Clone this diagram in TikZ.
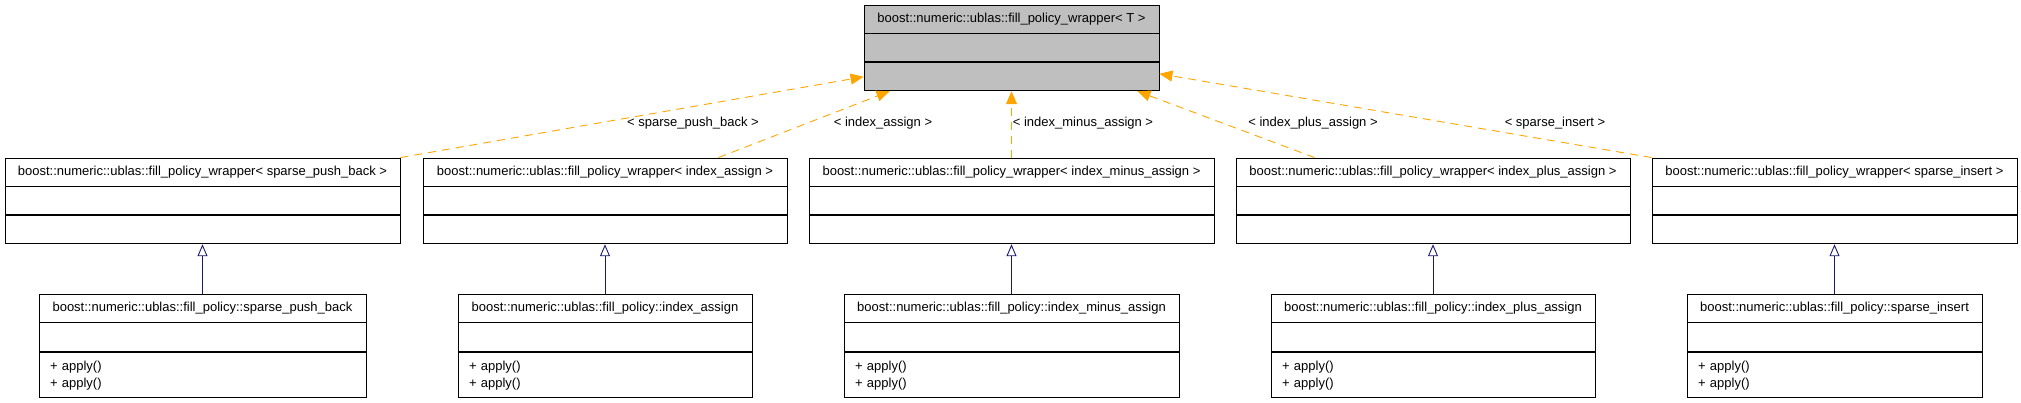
\documentclass[tikz,border=0pt]{standalone}
\usepackage{fontspec}
\setmainfont{Liberation Sans}
\usepackage{tikz}
\usetikzlibrary{arrows.meta, positioning}
\definecolor{inheritline}{HTML}{191970}
\definecolor{templline}{HTML}{FFA500}
\definecolor{basefill}{HTML}{BFBFBF}

\tikzset{
    classtitle/.style={draw, line width=0.9pt, inner sep=0pt, minimum height=28pt, minimum width=#1, font=\fontsize{13pt}{17pt}\selectfont},
    classpart/.style={draw, line width=0.9pt, inner sep=0pt, minimum height=28pt, minimum width=#1},
    opspart/.style={draw, line width=0.9pt, inner xsep=11pt, inner ysep=0pt, minimum height=45pt, text width=#1, align=left, font=\fontsize{13pt}{17pt}\selectfont},
    templarrow/.style={templline, line width=0.9pt, dash pattern=on 8pt off 6pt, -{Triangle[length=13pt, width=11pt]}},
    inheritarrow/.style={inheritline, line width=0.9pt, -{Triangle[open, length=12pt, width=10pt]}},
    edgelabel/.style={inner sep=0pt, font=\fontsize{13pt}{17pt}\selectfont}
}

\begin{document}
\begin{tikzpicture}[x=1pt, y=-1pt]
    % Canvas
    \useasboundingbox (0,0) rectangle (2021,403);

    % Template base class
    \node[classtitle=295pt, fill=basefill] (base) at (1011.5,19) {boost::numeric::ublas::fill\_policy\_wrapper< T >};
    \node[classpart=295pt, fill=basefill, below=0pt of base] (base-attr) {};
    \node[classpart=295pt, fill=basefill, below=0pt of base-attr] (base-ops) {};

    % Template instances
    \node[classtitle=395pt] (pushwrap) at (202.5,172) {boost::numeric::ublas::fill\_policy\_wrapper< sparse\_push\_back >};
    \node[classpart=395pt, below=0pt of pushwrap] (pushwrap-attr) {};
    \node[classpart=395pt, below=0pt of pushwrap-attr] (pushwrap-ops) {};

    \node[classtitle=364pt] (assignwrap) at (605,172) {boost::numeric::ublas::fill\_policy\_wrapper< index\_assign >};
    \node[classpart=364pt, below=0pt of assignwrap] (assignwrap-attr) {};
    \node[classpart=364pt, below=0pt of assignwrap-attr] (assignwrap-ops) {};

    \node[classtitle=405pt] (minuswrap) at (1011.5,172) {boost::numeric::ublas::fill\_policy\_wrapper< index\_minus\_assign >};
    \node[classpart=405pt, below=0pt of minuswrap] (minuswrap-attr) {};
    \node[classpart=405pt, below=0pt of minuswrap-attr] (minuswrap-ops) {};

    \node[classtitle=394pt] (pluswrap) at (1433,172) {boost::numeric::ublas::fill\_policy\_wrapper< index\_plus\_assign >};
    \node[classpart=394pt, below=0pt of pluswrap] (pluswrap-attr) {};
    \node[classpart=394pt, below=0pt of pluswrap-attr] (pluswrap-ops) {};

    \node[classtitle=365pt] (insertwrap) at (1834.5,172) {boost::numeric::ublas::fill\_policy\_wrapper< sparse\_insert >};
    \node[classpart=365pt, below=0pt of insertwrap] (insertwrap-attr) {};
    \node[classpart=365pt, below=0pt of insertwrap-attr] (insertwrap-ops) {};

    % Policy classes
    \node[classtitle=327pt] (pushpol) at (202.5,308) {boost::numeric::ublas::fill\_policy::sparse\_push\_back};
    \node[classpart=327pt, minimum height=29pt, below=0pt of pushpol] (pushpol-attr) {};
    \node[opspart=305pt, below=0pt of pushpol-attr] (pushpol-ops) {+ apply()\\+ apply()};

    \node[classtitle=294pt] (assignpol) at (605,308) {boost::numeric::ublas::fill\_policy::index\_assign};
    \node[classpart=294pt, minimum height=29pt, below=0pt of assignpol] (assignpol-attr) {};
    \node[opspart=272pt, below=0pt of assignpol-attr] (assignpol-ops) {+ apply()\\+ apply()};

    \node[classtitle=335pt] (minuspol) at (1011.5,308) {boost::numeric::ublas::fill\_policy::index\_minus\_assign};
    \node[classpart=335pt, minimum height=29pt, below=0pt of minuspol] (minuspol-attr) {};
    \node[opspart=313pt, below=0pt of minuspol-attr] (minuspol-ops) {+ apply()\\+ apply()};

    \node[classtitle=324pt] (pluspol) at (1433,308) {boost::numeric::ublas::fill\_policy::index\_plus\_assign};
    \node[classpart=324pt, minimum height=29pt, below=0pt of pluspol] (pluspol-attr) {};
    \node[opspart=302pt, below=0pt of pluspol-attr] (pluspol-ops) {+ apply()\\+ apply()};

    \node[classtitle=295pt] (insertpol) at (1834.5,308) {boost::numeric::ublas::fill\_policy::sparse\_insert};
    \node[classpart=295pt, minimum height=29pt, below=0pt of insertpol] (insertpol-attr) {};
    \node[opspart=273pt, below=0pt of insertpol-attr] (insertpol-ops) {+ apply()\\+ apply()};

    % Template instantiation edges
    \draw[templarrow] (pushwrap.north east) -- (base-ops.west);
    \draw[templarrow] ([xshift=-69pt]assignwrap.north east) -- ([xshift=26pt]base-ops.south west);
    \draw[templarrow] (minuswrap.north) -- (base-ops.south);
    \draw[templarrow] ([xshift=79pt]pluswrap.north west) -- ([xshift=-22pt]base-ops.south east);
    \draw[templarrow] (insertwrap.north west) -- ([yshift=3pt]base-ops.east);

    % Edge labels
    \node[edgelabel] (pushlabel) at (693,123) {< sparse\_push\_back >};
    \node[edgelabel] (assignlabel) at (883,123) {< index\_assign >};
    \node[edgelabel] (minuslabel) at (1083,123) {< index\_minus\_assign >};
    \node[edgelabel] (pluslabel) at (1313,123) {< index\_plus\_assign >};
    \node[edgelabel] (insertlabel) at (1555,123) {< sparse\_insert >};

    % Inheritance edges
    \draw[inheritarrow] (pushpol.north) -- (pushwrap-ops.south);
    \draw[inheritarrow] (assignpol.north) -- (assignwrap-ops.south);
    \draw[inheritarrow] (minuspol.north) -- (minuswrap-ops.south);
    \draw[inheritarrow] (pluspol.north) -- (pluswrap-ops.south);
    \draw[inheritarrow] (insertpol.north) -- (insertwrap-ops.south);
\end{tikzpicture}
\end{document}
